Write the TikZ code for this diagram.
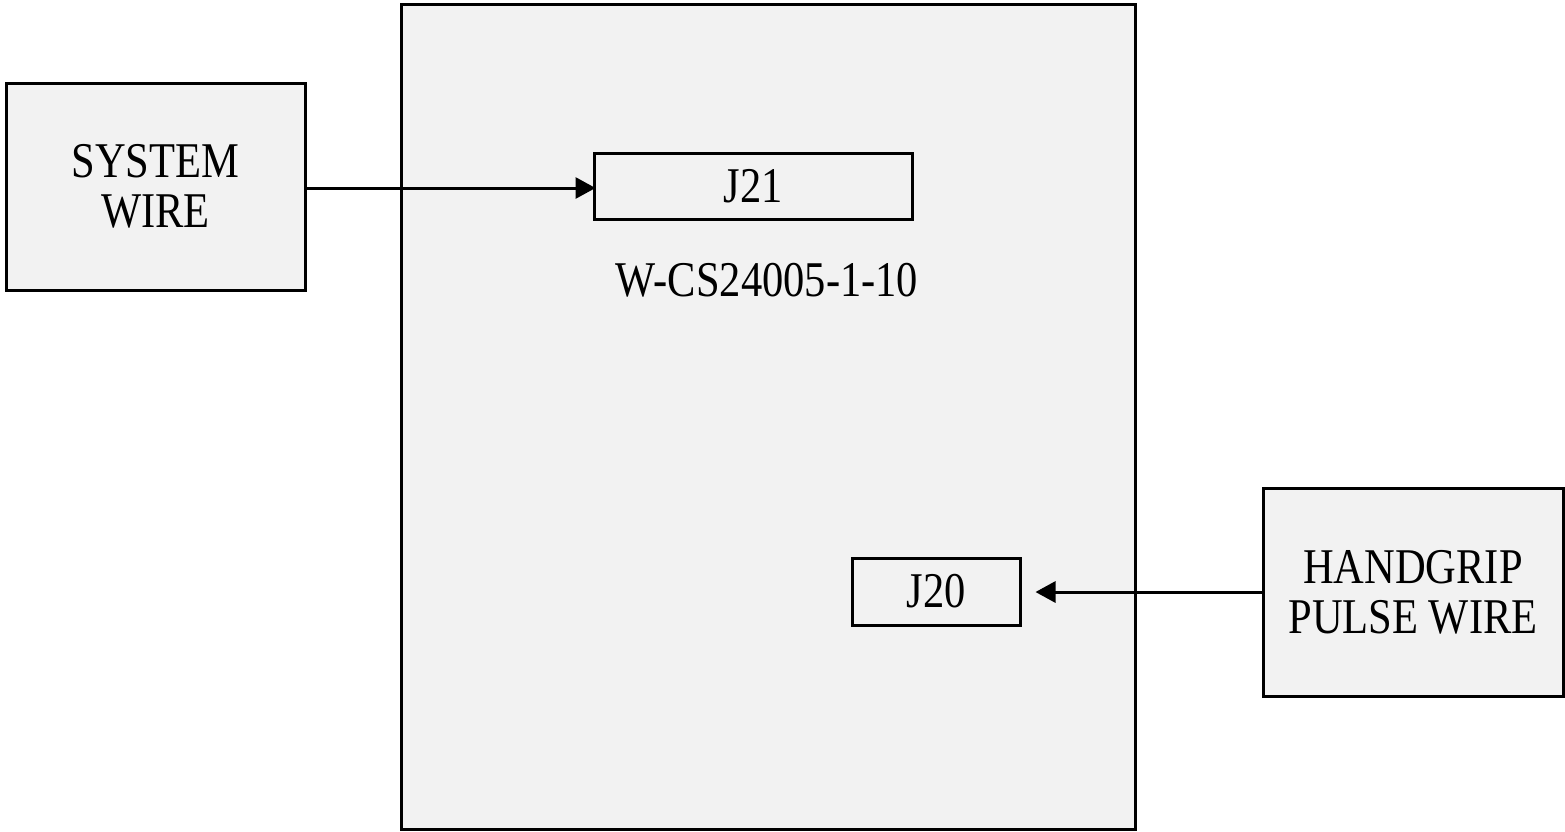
\documentclass[tikz,border=0pt]{standalone}
\usepackage{fontspec}
\setmainfont{Liberation Serif}[FakeStretch=0.85]
\usepackage{tikz}
\usepackage{xcolor}
\usetikzlibrary{arrows.meta}

\definecolor{boardgray}{HTML}{F2F2F2}
\tikzset{
  blockbox/.style={rectangle, draw=black, fill=boardgray, line width=3pt, inner sep=0pt, align=center, font=\fontsize{50}{50}\selectfont},
  wirearrow/.style={line width=3pt, -{Triangle[length=20pt,width=21pt]}}
}

\begin{document}
\begin{tikzpicture}[x=1pt,y=-1pt]
\useasboundingbox (0,0) rectangle (1565,831);
% board
\node[blockbox, minimum width=734pt, minimum height=825pt] (board) at (768,416.5) {};
\node[blockbox, minimum width=318pt, minimum height=66pt] (J21) at (753,186) {J21};
\node[font=\fontsize{50}{50}\selectfont] (boardname) at (767,280) {W-CS24005-1-10};
\node[blockbox, minimum width=168pt, minimum height=67pt] (J20) at (936,591.5) {J20};
% wires
\node[blockbox, minimum width=299pt, minimum height=207pt] (syswire) at (155.5,186.5) {SYSTEM\\WIRE};
\node[blockbox, minimum width=300pt, minimum height=208pt] (handgrip) at (1413,592) {HANDGRIP\\PULSE WIRE};
\draw[wirearrow] (syswire.east |- 0,188) -- ([xshift=3pt]J21.west |- 0,188);
\draw[wirearrow] (handgrip.west) -- ([xshift=14pt]J20.east |- handgrip.west);
\end{tikzpicture}
\end{document}
